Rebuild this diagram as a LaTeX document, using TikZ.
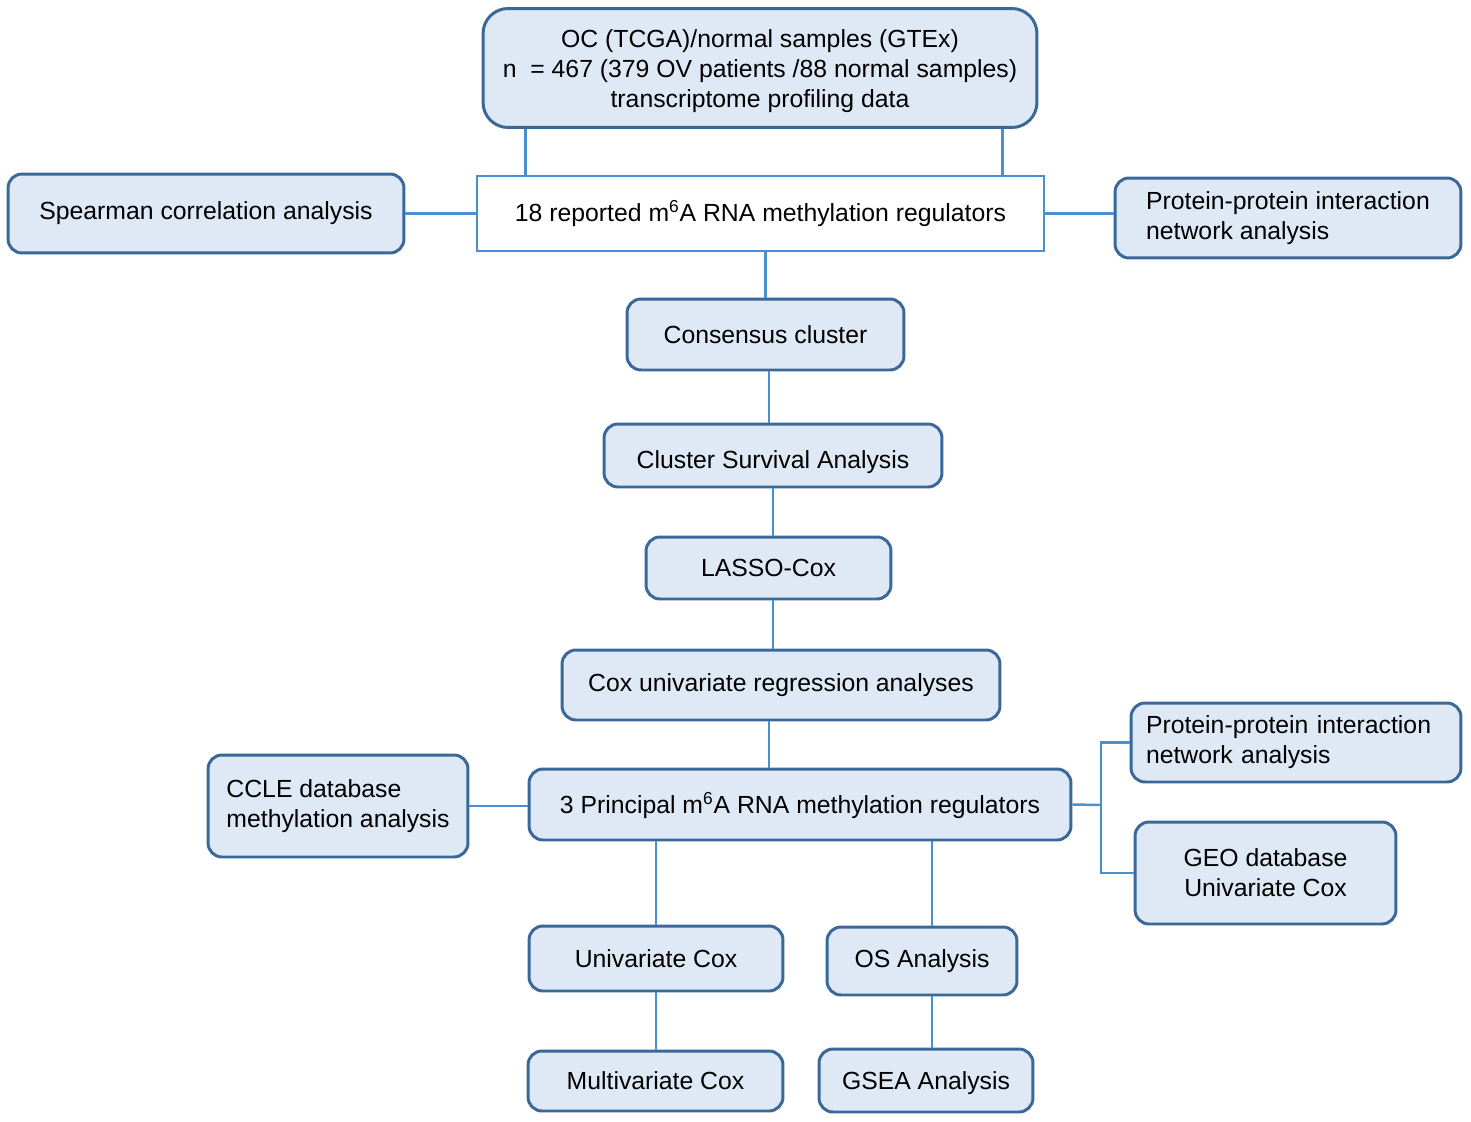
\documentclass[tikz,border=0pt]{standalone}
\usepackage{fontspec}
\setmainfont{Liberation Sans}
\usetikzlibrary{calc,positioning}
\definecolor{boxfill}{HTML}{DEE9F5}
\definecolor{boxline}{HTML}{3A6898}
\definecolor{linkline}{HTML}{4A8FD2}
\tikzset{
  box/.style={draw=boxline, fill=boxfill, line width=1.7pt, rounded corners=0.28cm,
    align=center, inner sep=0pt, font=\fontsize{14.1}{17}\selectfont},
  plainbox/.style={draw=linkline, fill=white, line width=1.5pt,
    align=center, inner sep=0pt, font=\fontsize{14.1}{17}\selectfont},
  lowtext/.style={text height=#1, text depth=0.1cm},
  link/.style={draw=linkline, line width=1.4pt}
}
\newcommand{\msix}{m\textsuperscript{6}A}

\begin{document}
\begin{tikzpicture}[x=0.02cm,y=-0.02cm]
\useasboundingbox (0,0) rectangle (1471,1122);

% Draw the data box and the regulator box.
\node[box, rounded corners=0.5cm, minimum width=11.08cm, minimum height=2.38cm] (samples) at (760,68)
  {\rule{0pt}{14pt}OC (TCGA)/normal samples (GTEx)\\n\ \ = 467 (379 OV patients /88 normal samples)\\transcriptome profiling data};
\node[plainbox, minimum width=11.34cm, minimum height=1.5cm] (regs) at (760.5,213.5)
  {18 reported \msix{} RNA methylation regulators};
\node[box, minimum width=7.92cm, minimum height=1.58cm] (spearman) at (206,213.5)
  {Spearman correlation analysis};
\node[box, align=left, minimum width=6.92cm, minimum height=1.6cm] (ppitop) at (1288,218)
  {Protein-protein interaction\\network analysis};

% Draw the main column.
\node[box, lowtext=0.46cm, minimum width=5.54cm, minimum height=1.42cm] (consensus) at (765.5,334.5) {Consensus cluster};
\node[box, lowtext=0.62cm, minimum width=6.76cm, minimum height=1.26cm] (clustersurv) at (773,455.5) {Cluster Survival Analysis};
\node[box, lowtext=0.44cm, minimum width=4.9cm, minimum height=1.24cm] (lasso) at (768.5,568) {LASSO-Cox};
\node[box, minimum width=8.76cm, minimum height=1.4cm] (coxuni) at (781,685) {Cox univariate regression analyses};
\node[box, lowtext=0.46cm, minimum width=10.84cm, minimum height=1.42cm] (principal) at (800,804.5)
  {3 Principal \msix{} RNA methylation regulators};

% Draw the side boxes of the principal regulators.
\node[box, align=left, minimum width=5.2cm, minimum height=2.04cm] (ccle) at (338,806)
  {CCLE database\\methylation analysis};
\node[box, align=left, text width=6cm, minimum width=6.6cm, minimum height=1.58cm] (ppibottom) at (1296,742.5)
  {Protein-protein interaction\\network analysis};
\node[box, minimum width=5.22cm, minimum height=2.04cm] (geo) at (1265.5,873)
  {GEO database\\Univariate Cox};

% Draw the two bottom branches.
\node[box, minimum width=5.08cm, minimum height=1.3cm] (unicox) at (656,958.5) {Univariate Cox};
\node[box, lowtext=0.44cm, minimum width=5.1cm, minimum height=1.2cm] (multicox) at (655.5,1081) {Multivariate Cox};
\node[box, minimum width=3.8cm, minimum height=1.36cm] (osan) at (922,961) {OS Analysis};
\node[box, lowtext=0.46cm, minimum width=4.28cm, minimum height=1.26cm] (gsea) at (926,1080.5) {GSEA Analysis};

% Draw connectors.
\coordinate (bracket) at (1101,805);
\draw[link] ([xshift=0.88cm]samples.south west) -- ([xshift=0.88cm]samples.south west |- regs.north);
\draw[link] ([xshift=-0.72cm]samples.south east) -- ([xshift=-0.72cm]samples.south east |- regs.north);
\draw[link] (spearman.east) -- (regs.west);
\draw[link] (regs.east) -- (regs.east -| ppitop.west);
\draw[link] (consensus.north |- regs.south) -- (consensus.north);
\draw[link] ([xshift=0.07cm]consensus.south) -- ([xshift=0.07cm]consensus.south |- clustersurv.north);
\draw[link] (clustersurv.south) -- (clustersurv.south |- lasso.north);
\draw[link] (clustersurv.south |- lasso.south) -- (clustersurv.south |- coxuni.north);
\draw[link] ([xshift=-0.24cm]coxuni.south) -- ([xshift=-0.24cm]coxuni.south |- principal.north);
\draw[link] (ccle.east) -- (ccle.east -| principal.west);
\draw[link] (principal.east) -- (bracket);
\draw[link] (ppibottom.west) -- (ppibottom.west -| bracket) -- (geo.west -| bracket) -- (geo.west);
\draw[link] (unicox.north |- principal.south) -- (unicox.north);
\draw[link] (unicox.south) -- (unicox.south |- multicox.north);
\draw[link] ([xshift=0.2cm]osan.north |- principal.south) -- ([xshift=0.2cm]osan.north);
\draw[link] ([xshift=0.2cm]osan.south) -- ([xshift=0.2cm]osan.south |- gsea.north);
\end{tikzpicture}
\end{document}
